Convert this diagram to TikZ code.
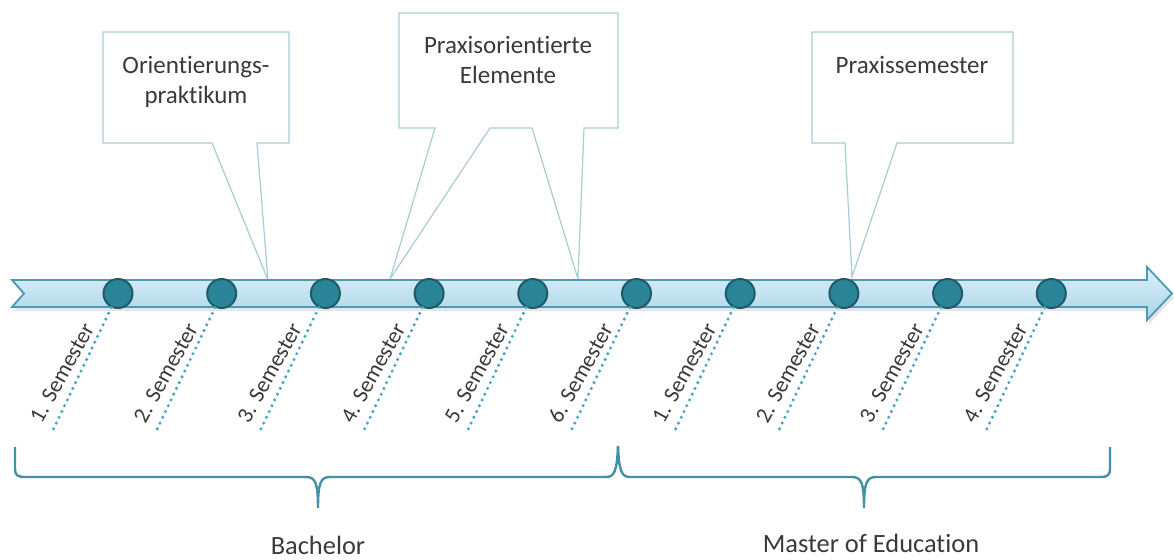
\documentclass[tikz,border=0pt]{standalone}
\usepackage{fontspec}
\setmainfont{Carlito}[Ligatures=NoCommon]

\definecolor{bandtop}{HTML}{DDF1F9}
\definecolor{bandbot}{HTML}{A8D4E8}
\definecolor{bandline}{HTML}{4E9AB4}
\definecolor{semfill}{HTML}{2B8598}
\definecolor{semdraw}{HTML}{1E5B69}
\definecolor{semline}{HTML}{4AA5C3}
\definecolor{callline}{HTML}{A8CCD6}
\definecolor{bracecol}{HTML}{4490A6}
\definecolor{txt}{HTML}{3A3A3A}

\begin{document}
\begin{tikzpicture}[x=0.5pt, y=-0.5pt,
    callout/.style={draw=callline, line width=0.6pt, fill=white},
    boxtext/.style={font=\fontsize{12.5}{15}\selectfont, text=txt, align=center},
    semdot/.style={circle, draw=semdraw, fill=semfill, line width=1pt,
                   minimum size=14.5pt, inner sep=0pt},
    semlink/.style={draw=semline, line width=1.7pt, line cap=round,
                    dash pattern=on 0pt off 3.2pt},
    semlabel/.style={font=\fontsize{11.3}{13}\selectfont, text=txt, rotate=61},
    brace/.style={draw=bracecol, line width=1.2pt},
    degree/.style={font=\fontsize{13.2}{16}\selectfont, text=txt}]
  \useasboundingbox (0,0) rectangle (1174,559);

  % callouts
  \draw[callout] (103,32) -- (289,32) -- (289,143) -- (257,143) -- (268,280)
    -- (212,143) -- (103,143) -- cycle;
  \draw[callout] (399,13) -- (618,13) -- (618,128) -- (584,128) -- (578,279)
    -- (532,128) -- (490,128) -- (390,279) -- (435,128) -- (399,128) -- cycle;
  \draw[callout] (812,32) -- (1013,32) -- (1013,143) -- (897,143) -- (852,277)
    -- (845,143) -- (812,143) -- cycle;
  \node[boxtext] (orient) at (196,82) {Orientierungs-\\praktikum};
  \node[boxtext] (praxel) at (508,60) {Praxisorientierte\\Elemente};
  \node[boxtext] (praxsem) at (912,65) {Praxissemester};

  % time line
  \fill[black, opacity=0.10]
    (14,284) -- (26,297.5) -- (14,311) -- (1149,311) -- (1149,324) -- (1174,297.5)
    -- (1149,271) -- (1149,284) -- cycle;
  \shade[top color=bandtop, bottom color=bandbot, draw=bandline, line width=0.9pt]
    (12,280) -- (24,293.5) -- (12,307) -- (1147,307) -- (1147,320) -- (1172,293.5)
    -- (1147,267) -- (1147,280) -- cycle;

  \foreach \i/\n in {0/1,1/2,2/3,3/4,4/5,5/6,6/1,7/2,8/3,9/4} {
    \node[semdot] (s\i) at ({118+103.7*\i},293.5) {};
    \coordinate (e\i) at ({118+103.7*\i-65},430);
    \draw[semlink] (s\i) -- (e\i);
    \node[semlabel] (l\i) at ({118+103.7*\i-56},373) {\n. Semester};
  }

  % braces
  \draw[brace] (15,447) -- (15,468) .. controls (15,475) and (17,477) .. (25,477)
    -- (306,477) .. controls (315,477) and (318,482) .. (318,508)
    .. controls (318,482) and (321,477) .. (330,477)
    -- (606,477) .. controls (614,477) and (617,472) .. (618,446);
  \draw[brace] (618,446) .. controls (619,472) and (622,477) .. (630,477)
    -- (852,477) .. controls (861,477) and (864,482) .. (864,508)
    .. controls (864,482) and (867,477) .. (876,477)
    -- (1100,477) .. controls (1108,477) and (1110,475) .. (1110,468) -- (1110,447);
  \node[degree] (bach) at (318,545) {Bachelor};
  \node[degree] (med) at (871,543) {Master of Education};
\end{tikzpicture}
\end{document}
